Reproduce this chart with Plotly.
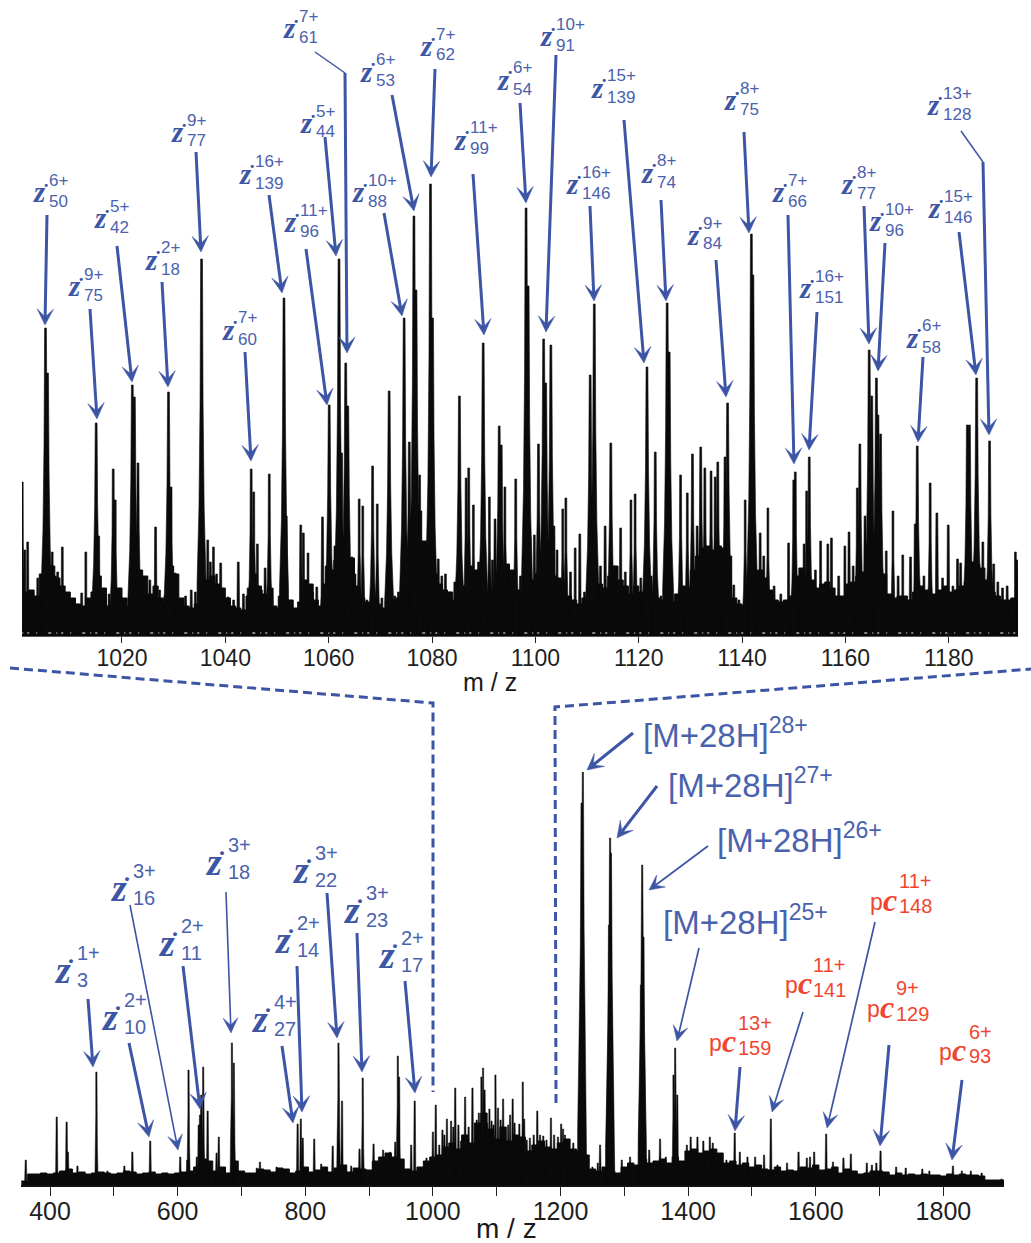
import math
import plotly.graph_objects as go

W, H = 1031, 1243
BLUE = "#3d55a5"
TXT_BLUE = "#4a62ad"
RED = "#f0462f"
INK = "#0a0a0b"
SANS = "Liberation Sans"
SERIF = "Liberation Serif"

# ---------- zoomed spectrum (m/z 1000-1193)
top_tick_vals = [1020, 1040, 1060, 1080, 1100, 1120, 1140, 1160, 1180]
top_floor_start = 1001
top_floor_step = 1
top_floor = [44, 46, 40, 62, 64, 70, 58, 50, 44, 38, 32, 30, 38, 44, 60, 48, 30, 34, 48, 38, 26, 30, 66, 60, 42, 50, 38, 32,
             70, 62, 38, 30, 28, 32, 40, 56, 60, 52, 48, 38, 30, 28, 26, 40, 62, 50, 42, 34, 30, 28, 34, 36, 28, 34, 56, 52,
             36, 30, 52, 66, 76, 100, 92, 78, 50, 38, 34, 32, 32, 28, 30, 36, 38, 58, 90, 120, 125, 95, 80, 62, 52, 46, 44,
             36, 36, 50, 70, 66, 56, 44, 42, 52, 64, 72, 66, 46, 38, 60, 56, 62, 70, 66, 60, 58, 54, 40, 36, 32, 38, 54, 62,
             52, 48, 60, 70, 56, 50, 42, 50, 44, 42, 38, 38, 36, 36, 34, 42, 50, 48, 66, 80, 88, 90, 86, 90, 88, 80, 38, 32,
             30, 34, 52, 66, 58, 46, 36, 34, 36, 40, 60, 68, 60, 56, 48, 52, 54, 48, 40, 40, 52, 54, 60, 64, 92, 90, 82, 62,
             42, 38, 40, 40, 36, 44, 50, 46, 42, 42, 46, 50, 44, 46, 50, 54, 74, 72, 68, 56, 44, 40, 36, 36, 38, 40]
top_mz = [1000.7, 1001.2, 1001.75, 1002.6, 1003.7, 1004.4, 1005.2, 1005.6, 1006.5, 1007.1, 1007.55, 1008.45, 1009.5,
          1010.6, 1011.4, 1012.2, 1013, 1014.4, 1015, 1015.5, 1016.4, 1017.5, 1018.3, 1018.7, 1020.2, 1021, 1022,
          1022.4, 1023.1, 1024.2, 1025.4, 1026.5, 1027.3, 1028.3, 1029, 1029.5, 1030.3, 1031.2, 1032.3, 1033.4,
          1034.2, 1035.4, 1036.6, 1037.1, 1037.7, 1038.3, 1039.1, 1040.5, 1041.6, 1042.5, 1043.5, 1044.4, 1045,
          1045.5, 1046.2, 1047, 1047.7, 1048.5, 1049.1, 1050.4, 1051.35, 1051.8, 1053, 1054.6, 1055.1, 1056,
          1056.9, 1057.7, 1058.8, 1059.5, 1060.1, 1061.2, 1062, 1062.5, 1063.3, 1063.7, 1064.5, 1065.1, 1065.9,
          1066.6, 1067.4, 1068.5, 1069.4, 1070.3, 1071.7, 1072.8, 1073.5, 1074.6, 1075.6, 1076.5, 1076.9, 1077.6,
          1078.6, 1079.7, 1080.1, 1081.2, 1081.9, 1082.6, 1083.5, 1084.4, 1085.3, 1086.6, 1087.1, 1088, 1089,
          1089.9, 1091.1, 1091.7, 1092.2, 1093, 1093.4, 1094.1, 1094.6, 1095.4, 1096.2, 1097.1, 1098.2, 1098.6,
          1099, 1099.8, 1100.6, 1101.6, 1102, 1103, 1103.6, 1104.2, 1105.3, 1105.9, 1106.8, 1107.7, 1108.6, 1109.5,
          1110.6, 1111.4, 1112.6, 1113.5, 1114.6, 1115.4, 1116.5, 1117.4, 1118.5, 1119.3, 1120.4, 1121.6, 1122.4,
          1123.2, 1124.3, 1125.5, 1125.9, 1127.1, 1128.1, 1129.4, 1130.4, 1131.3, 1132, 1132.8, 1134, 1134.8,
          1135.3, 1136.7, 1137.2, 1138.4, 1139.4, 1140.6, 1141.8, 1142.1, 1143.5, 1144.2, 1145, 1146.2, 1147.5,
          1149, 1150, 1150.3, 1151.3, 1152, 1152.5, 1153, 1154.2, 1155.2, 1156.6, 1157.3, 1158.7, 1159.9, 1160.7,
          1161.5, 1162.3, 1162.8, 1163.8, 1164.6, 1165.1, 1166, 1166.3, 1166.8, 1167.9, 1169.2, 1170.2, 1171.1,
          1172.6, 1173.5, 1173.9, 1175.2, 1176.4, 1177.7, 1178.8, 1179.9, 1180.8, 1181.7, 1182.3, 1183.6, 1184,
          1185.4, 1186.6, 1187.9, 1188.7, 1189.5, 1190.4, 1191.3, 1192.9, 1193.2]
top_int = [154, 86, 94, 40, 58, 50, 308, 263, 84, 60, 64, 89, 43, 36, 32, 43, 84, 40, 213, 100, 34, 42, 167, 136, 36,
           30, 251, 239, 173, 36, 56, 109, 46, 40, 244, 149, 63, 36, 40, 46, 44, 377, 96, 74, 89, 62, 73, 39, 36, 74,
           42, 48, 167, 144, 92, 46, 68, 162, 48, 40, 338, 120, 36, 111, 103, 83, 44, 49, 119, 70, 231, 90, 377, 183,
           273, 230, 79, 62, 137, 130, 36, 170, 132, 38, 245, 40, 44, 318, 194, 420, 346, 161, 90, 452, 318, 77, 60,
           62, 44, 54, 240, 158, 168, 131, 74, 293, 139, 76, 117, 210, 191, 149, 69, 44, 157, 60, 428, 350, 99, 101,
           192, 297, 253, 291, 110, 86, 127, 138, 64, 88, 102, 44, 261, 332, 70, 110, 193, 70, 108, 64, 136, 142, 58,
           269, 60, 184, 40, 333, 284, 42, 161, 143, 182, 110, 189, 168, 165, 159, 174, 179, 233, 51, 36, 136, 402,
           361, 103, 80, 128, 50, 42, 93, 156, 164, 60, 92, 145, 179, 66, 95, 92, 98, 60, 90, 104, 70, 148, 192, 120,
           286, 240, 258, 221, 202, 85, 125, 60, 81, 79, 112, 190, 60, 153, 123, 58, 111, 50, 77, 73, 211, 211, 258,
           94, 195, 72, 54, 48, 50, 84, 76]

# ---------- full spectrum (m/z 355-1895)
low_tick_vals = [400, 600, 800, 1000, 1200, 1400, 1600, 1800]
low_floor_start = 355
low_floor_step = 10
low_floor = [4, 11, 11, 12, 11, 12, 14, 16, 12, 13, 11, 12, 13, 12, 11, 12, 14, 13, 11, 12, 13, 11, 12, 11, 12, 13, 14, 18,
             26, 24, 14, 18, 12, 24, 14, 12, 12, 16, 15, 13, 17, 16, 12, 14, 18, 13, 15, 18, 13, 17, 20, 13, 17, 16, 15,
             24, 28, 32, 28, 26, 16, 14, 18, 24, 28, 30, 38, 42, 36, 50, 42, 62, 72, 56, 46, 58, 44, 50, 48, 34, 40, 44,
             38, 36, 42, 46, 36, 34, 30, 16, 14, 18, 14, 12, 18, 22, 20, 26, 22, 24, 26, 22, 28, 24, 34, 36, 32, 34, 36,
             32, 22, 24, 20, 22, 18, 20, 16, 15, 18, 14, 15, 14, 18, 17, 20, 15, 16, 18, 12, 16, 14, 11, 12, 14, 14, 13,
             10, 12, 10, 11, 10, 11, 10, 10, 9, 11, 10, 11, 10, 10, 9, 5, 5, 5, 5]
low_mz = [362, 410.5, 426, 428, 443, 472.6, 490, 516.5, 529, 557, 604, 615, 617, 630, 633, 635, 637, 640, 647, 664.5, 661, 685, 688,
          729, 724, 755, 765, 788, 793, 796, 814, 825, 832, 843, 852, 857.6, 872, 885, 890, 907, 922, 933, 941, 945, 947,
          966, 971.5, 990, 1000, 1004.5, 1010, 1015, 1018, 1022, 1028.5, 1032, 1035, 1040, 1044, 1047, 1050.5, 1056, 1062, 1068.6,
          1072, 1078.6, 1076, 1081, 1085, 1088.6, 1092, 1095, 1098, 1102, 1106, 1110, 1113, 1118, 1121, 1125, 1128, 1130,
          1135.5, 1140.8, 1143, 1147, 1152, 1158, 1163.6, 1168, 1173, 1178, 1185, 1190, 1196, 1201, 1204, 1207, 1212, 1220, 1233,
          1235, 1258.4, 1250, 1262, 1276, 1277.7, 1279, 1296, 1309, 1326, 1328, 1330, 1339, 1356, 1365, 1377, 1379.6, 1383, 1398,
          1404, 1414.6, 1423.8, 1434, 1438.6, 1451, 1460, 1473, 1481, 1493, 1505, 1519, 1529.6, 1540, 1555, 1573, 1586,
          1591, 1597.5, 1616.3, 1627, 1643.4, 1655, 1680, 1688, 1695, 1701.5, 1726, 1741, 1767, 1778, 1815, 1829, 1843,
          1860, 1891]
low_int = [25, 68, 63, 33, 19, 113, 14, 19, 33, 44, 28, 25, 115, 28, 60, 70, 90, 118, 74, 48, 32, 142, 122, 23, 17, 18, 15, 61, 66,
           47, 46, 21, 16, 39, 142, 84, 19, 36, 107, 41, 35, 33, 43, 129, 108, 40, 84, 27, 53, 80, 40, 55, 50, 66, 64, 58, 97, 60,
           44, 50, 88, 58, 97, 65, 72, 117, 108, 95, 62, 76, 64, 60, 110, 77, 65, 86, 52, 60, 70, 86, 62, 49, 61, 103, 66, 45,
           47, 50, 74, 50, 49, 45, 67, 50, 48, 61, 56, 50, 42, 42, 382, 413, 22, 18, 40, 260, 347, 332, 25, 28, 200, 320, 248, 35,
           46, 28, 110, 137, 90, 40, 48, 48, 44, 48, 42, 29, 25, 52, 33, 28, 28, 30, 66, 20, 22, 33, 27, 28, 33, 51, 23, 27, 31,
           22, 20, 22, 34, 18, 17, 16, 14, 19, 14, 14, 12, 6]

# ---------- annotations: text of each fragment label
top_labels = ["50", "75", "42", "18", "77", "139", "60", "96", "44", "61", "53", "62", "88", "99", "54", "91",
              "139", "146", "74", "84", "75", "66", "151", "77", "96", "58", "146", "128"]
top_charges = ["6+", "9+", "5+", "2+", "9+", "16+", "7+", "11+", "5+", "7+", "6+", "7+", "10+", "11+", "6+", "10+",
               "15+", "16+", "8+", "9+", "8+", "7+", "16+", "8+", "10+", "6+", "15+", "13+"]
low_labels = ["3", "10", "16", "11", "18", "27", "14", "22", "23", "17"]
low_charges = ["1+", "2+", "3+", "2+", "3+", "4+", "2+", "3+", "3+", "2+"]
red_labels = ["159", "141", "148", "129", "93"]
red_charges = ["13+", "11+", "11+", "9+", "6+"]
mol_charges = ["28+", "27+", "26+", "25+"]


def fx(px):
    return px / W


def fy(py):
    return 1 - py / H


def spectrum_polys(mz, ints, px_per_unit, scale, tip, mid, low, base):
    xs, ys = [], []
    for m, h in zip(mz, ints):
        f = max(0.3, min(1.0, h / scale))
        a, b, c, d = tip / px_per_unit, mid * f / px_per_unit, low * f / px_per_unit, base * f / px_per_unit
        b, c, d = max(a, b), max(a, c), max(a, d)
        xs += [m - d, m - d, m - c, m - b, m - a, m + a, m + b, m + c, m + d, m + d, None]
        ys += [0, 0.14 * h, 0.34 * h, 0.62 * h, h, h, 0.62 * h, 0.34 * h, 0.14 * h, 0, None]
    return xs, ys


fig = go.Figure()
top_floor_mz = [top_floor_start + top_floor_step * i for i in range(len(top_floor))]
low_floor_mz = [low_floor_start + low_floor_step * i for i in range(len(low_floor))]
fig.add_trace(go.Scatter(x=top_floor_mz, y=top_floor, mode="lines", fill="tozeroy", fillcolor=INK,
                         line=dict(color=INK, width=1, shape="hv"), xaxis="x", yaxis="y", hoverinfo="skip"))
px_t, py_t = spectrum_polys(top_mz, top_int, 5.167, 220, 0.9, 1.5, 2.6, 4.5)
fig.add_trace(go.Scatter(x=px_t, y=py_t, mode="lines", fill="toself", fillcolor=INK,
                         line=dict(color=INK, width=0.6), xaxis="x", yaxis="y", hoverinfo="skip"))
fig.add_trace(go.Scatter(x=[top_floor_mz[0] - 0.3, top_floor_mz[-1] + 0.4], y=[3, 3], mode="lines",
                         line=dict(color="#ffffff", width=1, dash="1px,4px,2px,7px,1px,11px,3px,5px"),
                         xaxis="x", yaxis="y", hoverinfo="skip"))
fig.add_trace(go.Scatter(x=low_floor_mz, y=low_floor, mode="lines", fill="tozeroy", fillcolor=INK,
                         line=dict(color=INK, width=1, shape="hv"), xaxis="x2", yaxis="y2", hoverinfo="skip"))
px_l, py_l = spectrum_polys(low_mz, low_int, 0.638, 300, 0.6, 1.3, 2.8, 4.0)
fig.add_trace(go.Scatter(x=px_l, y=py_l, mode="lines", fill="toself", fillcolor=INK,
                         line=dict(color=INK, width=0.5), xaxis="x2", yaxis="y2", hoverinfo="skip"))

shapes, anns = [], []


def text(px, py, s, size, color=TXT_BLUE, family=SANS, anchor="left"):
    anns.append(dict(x=fx(px), y=fy(py), xref="paper", yref="paper", text=s, showarrow=False, xanchor=anchor,
                     yanchor="middle", borderpad=0, font=dict(size=size, color=color, family=family)))


def frag(L, cy, sub, sup, big=False):
    if big:
        text(L - 2, cy, "<b><i>z</i></b>", 38, BLUE, SERIF)
        text(L + 11, cy - 9, "<b>·</b>", 24, BLUE, SERIF)
        text(L + 21, cy - 17, sup, 20)
        text(L + 21, cy + 10, sub, 20)
    else:
        text(L - 1.5, cy, "<b><i>z</i></b>", 29, BLUE, SERIF)
        text(L + 9, cy - 7, "<b>·</b>", 19, BLUE, SERIF)
        text(L + 15, cy - 12, sup, 17)
        text(L + 14.5, cy + 9, sub, 17)


def arrow(x0, y0, x1, y1, w=3.0, head=True):
    dx, dy = x1 - x0, y1 - y0
    n = math.hypot(dx, dy)
    ux, uy = dx / n, dy / n
    nx, ny = -uy, ux
    if head:
        ln, hw, notch = (16, 8.2, 8) if w >= 2.5 else (15, 7.4, 8)
        ex, ey = x1 - ux * notch, y1 - uy * notch
    else:
        ex, ey = x1, y1
    shapes.append(dict(type="line", xref="paper", yref="paper", x0=fx(x0), y0=fy(y0), x1=fx(ex), y1=fy(ey),
                       line=dict(color=BLUE, width=w)))
    if head:
        pts = [(x1, y1), (x1 - ux * ln + nx * hw, y1 - uy * ln + ny * hw), (ex, ey),
               (x1 - ux * ln - nx * hw, y1 - uy * ln - ny * hw)]
        d = "M" + " L".join(f"{fx(a):.5f},{fy(b):.5f}" for a, b in pts) + " Z"
        shapes.append(dict(type="path", xref="paper", yref="paper", path=d, fillcolor=BLUE,
                           line=dict(color=BLUE, width=0.5)))


top_label_pos = [(33, 192), (68, 286), (94, 218), (145, 260), (171, 132), (239, 174), (222, 330), (284, 222), (300, 123),
                 (283, 28), (360, 72), (420, 46), (352, 192), (454, 140), (497, 80), (540, 36), (591, 88), (566, 184),
                 (641, 173), (687, 235), (724, 100), (772, 192), (799, 288), (841, 184), (869, 221), (906, 338),
                 (928, 208), (927, 105)]
for (L, cy), sub, sup in zip(top_label_pos, top_labels, top_charges):
    frag(L, cy, sub, sup)
top_arrows = [(47, 215, 45, 325), (90, 309, 97, 419), (117, 246, 132, 382), (162, 282, 168, 387), (196, 152, 201, 252),
              (269, 195, 282, 293), (245, 352, 251, 461), (306, 249, 327, 405), (325, 137, 336, 256),
              (345, 73, 347, 353), (392, 95, 414, 211), (435, 69, 431, 177), (384, 213, 402, 316), (473, 174, 484, 335),
              (520, 103, 526, 203), (556, 55, 546, 332), (624, 120, 644, 363), (590, 206, 594, 301),
              (661, 200, 666, 301), (716, 260, 726, 397), (744, 132, 749, 233), (788, 215, 794, 464),
              (817, 312, 809, 450), (864, 206, 869, 344), (885, 243, 878, 371), (923, 357, 918, 442),
              (959, 232, 976, 375), (983, 162, 989, 435)]
for a in top_arrows:
    arrow(*a)
arrow(315, 52, 345, 73, 1.5, head=False)
arrow(961, 131, 983, 162, 1.5, head=False)

low_label_pos = [(55, 970), (102, 1017), (111, 888), (159, 943), (206, 862), (252, 1019), (275, 940), (293, 870),
                 (344, 910), (379, 955)]
for (L, cy), sub, sup in zip(low_label_pos, low_labels, low_charges):
    frag(L, cy, sub, sup, big=True)
low_arrows = [(88, 999, 93, 1067, 3), (129, 1043, 149, 1137, 3), (130, 905, 178, 1150, 1.6), (183, 966, 200, 1109, 3),
              (226, 892, 231, 1033, 1.6), (282, 1046, 293, 1123, 3), (297, 966, 302, 1112, 3), (327, 893, 337, 1038, 3),
              (357, 933, 362, 1072, 3), (405, 981, 415, 1093, 3),
              (633, 733, 587, 770, 3), (657, 786, 617, 838, 3), (708, 846, 649, 890, 1.7), (699, 948, 677, 1041, 1.7),
              (740, 1067, 735, 1131, 3), (803, 1012, 772, 1112, 1.7), (875, 922, 827, 1128, 1.7),
              (889, 1045, 880, 1146, 3), (962, 1080, 952, 1160, 3)]
for a in low_arrows:
    arrow(*a)

mol_pos = [(642, 733), (667, 783), (716, 838), (662, 920)]
for (x, y), c in zip(mol_pos, mol_charges):
    text(x, y, f"[M+28H]<sup>{c}</sup>", 33)

red_pos = [(708, 1043, 737), (784, 985, 812), (869, 902, 898), (866, 1009, 895), (938, 1052, 968)]
red_sup_y = [1023, 965, 881, 988, 1032]
red_sub_y = [1048, 990, 906, 1014, 1056]
for (px, py, sx), sup_y, sub_y, sub, sup in zip(red_pos, red_sup_y, red_sub_y, red_labels, red_charges):
    text(px, py, "p", 23, RED)
    text(px + 13, py - 2, "<b><i>c</i></b>", 32, RED, SERIF)
    text(sx, sup_y, sup, 20, RED)
    text(sx, sub_y, sub, 20, RED)

text(490, 682, "m / z", 25, "#1a1a1a", SANS, "center")
text(506, 1228, "m / z", 28, "#1a1a1a", SANS, "center")

for pts in ([(10, 668), (433, 703), (433, 1092)], [(556, 1103), (555, 707), (1031, 669)]):
    d = "M" + " L".join(f"{fx(a):.5f},{fy(b):.5f}" for a, b in pts)
    shapes.append(dict(type="path", xref="paper", yref="paper", path=d,
                       line=dict(color=BLUE, width=3, dash="9px,5px")))

fig.update_layout(
    width=W, height=H, margin=dict(l=0, r=0, t=0, b=0), paper_bgcolor="white", plot_bgcolor="white",
    showlegend=False, shapes=shapes, annotations=anns,
    xaxis=dict(domain=[fx(22), fx(1018)], range=[1000.65, 1193.4], tickvals=top_tick_vals, ticks="outside", ticklen=6,
               tickwidth=1.2, tickcolor="#222", showgrid=False, zeroline=False, showline=True, linecolor="#555",
               linewidth=1, anchor="y", ticklabelstandoff=-5, tickfont=dict(size=23, family=SANS, color="#1f1f1f")),
    yaxis=dict(domain=[fy(636), fy(180)], range=[0, 456], visible=False, anchor="x"),
    xaxis2=dict(domain=[fx(21), fx(1004)], range=[354.5, 1895], tick0=400, dtick=200, ticks="outside", ticklen=9,
                tickwidth=1.4, tickcolor="#222", showgrid=False, zeroline=False, showline=True, linecolor="#111",
                linewidth=2, anchor="y2", ticklabelstandoff=-6, tickfont=dict(size=25, family=SANS, color="#1f1f1f"),
                minor=dict(dtick=100, tick0=400, ticks="outside", ticklen=9, tickwidth=1.4, tickcolor="#222",
                           showgrid=False)),
    yaxis2=dict(domain=[fy(1185), fy(772)], range=[0, 413], visible=False, anchor="x2"),
)
fig.write_html("out.html", config={"displayModeBar": False, "responsive": False},
               post_script="document.body.style.margin='0';document.documentElement.style.overflow='hidden';")
